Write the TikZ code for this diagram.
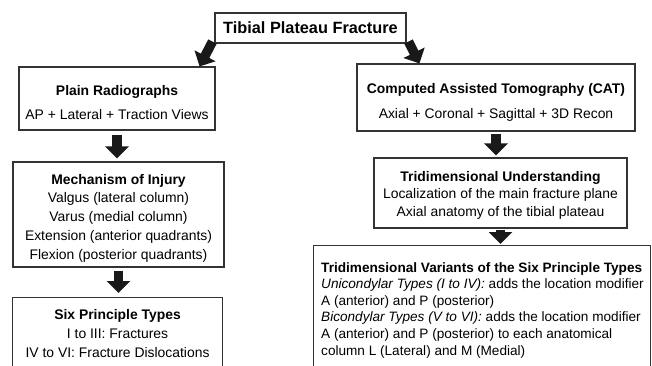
\documentclass[tikz,border=0pt]{standalone}
\usepackage{fontspec}
\setmainfont{Liberation Sans}
\usetikzlibrary{arrows.meta,positioning}

\begin{document}
\begin{tikzpicture}[x=1pt, y=-1pt,
  box/.style={draw=black!80, line width=1.1pt, fill=white, align=center, inner sep=2pt},
  frame/.style={draw=black!80, line width=1.1pt, inner sep=0pt},
  boxtext/.style={inner sep=2pt, align=center},
  bigarrow/.style={line width=9.5pt, black!90, -{Triangle[width=23pt,length=12pt]}}]
  \useasboundingbox (0,0) rectangle (652,365);
  \clip (0,0) rectangle (652,365);

  \node (title) [box, minimum width=191pt, minimum height=30pt, font=\fontsize{16.3}{19}\selectfont\bfseries] at (310.5,28) {Tibial Plateau Fracture};

  \node (plain) [frame, minimum width=196pt, minimum height=63pt] at (117,98.5) {};
  \node (plaintext) [boxtext, yshift=-4pt, font=\fontsize{13.9}{24}\selectfont] at (plain.center)
    {\textbf{Plain Radiographs}\\AP + Lateral + Traction Views};
  \node (mech) [frame, minimum width=211pt, minimum height=105pt] at (118.5,214.5) {};
  \node (mechtext) [boxtext, yshift=-3.5pt, font=\fontsize{13.9}{18.75}\selectfont] at (mech.center)
    {\textbf{Mechanism of Injury}\\Valgus (lateral column)\\Varus (medial column)\\Extension (anterior quadrants)\\Flexion (posterior quadrants)};
  \node (six) [frame, anchor=north west, minimum width=210pt, minimum height=90pt] at (12,297) {};
  \node (sixtext) [boxtext, anchor=north, yshift=-10.6pt, font=\fontsize{13.9}{19}\selectfont] at (six.north)
    {\textbf{Six Principle Types}\\I to III: Fractures\\IV to VI: Fracture Dislocations};

  \node (cat) [frame, minimum width=278pt, minimum height=67pt] at (496,97.5) {};
  \node (cattext) [boxtext, yshift=-5pt, font=\fontsize{13.9}{25}\selectfont] at (cat.center)
    {\textbf{Computed Assisted Tomography (CAT)}\\Axial + Coronal + Sagittal + 3D Recon};
  \node (triu) [frame, minimum width=253pt, minimum height=70pt] at (500.5,193) {};
  \node (triutext) [boxtext, yshift=-2pt, font=\fontsize{13.9}{17.5}\selectfont] at (triu.center)
    {\textbf{Tridimensional Understanding}\\Localization of the main fracture plane\\Axial anatomy of the tibial plateau};
  \node (var) [frame, anchor=north west, minimum width=337pt, minimum height=140pt] at (313,245) {};
  \node (vartext) [anchor=north west, xshift=6pt, yshift=-15pt, inner sep=2pt, align=left, font=\fontsize{13.6}{16.6}\selectfont] at (var.north west)
    {\textbf{Tridimensional Variants of the Six Principle Types}\\
     \textit{Unicondylar Types (I to IV):} adds the location modifier\\
     A (anterior) and P (posterior)\\
     \textit{Bicondylar Types (V to VI):} adds the location modifier\\
     A (anterior) and P (posterior) to each anatomical\\
     column L (Lateral) and M (Medial)};

  \draw[bigarrow] ([shift={(-2,-2)}]title.south west) -- ([xshift=-16pt]plain.north east);
  \draw[bigarrow] ([shift={(2,-2)}]title.south east) -- ([xshift=63pt]cat.north west);
  \draw[bigarrow, shorten <=4pt, shorten >=3pt] (plain.south) -- (plain.south |- mech.north);
  \draw[bigarrow, shorten <=3pt, shorten >=4pt] (mech.south) -- (mech.south |- six.north);
  \draw[bigarrow, shorten <=2pt, shorten >=2pt] (cat.south) -- (cat.south |- triu.north);
  \draw[bigarrow, shorten <=1pt, shorten >=1pt] (triu.south) -- (triu.south |- var.north);
\end{tikzpicture}
\end{document}
